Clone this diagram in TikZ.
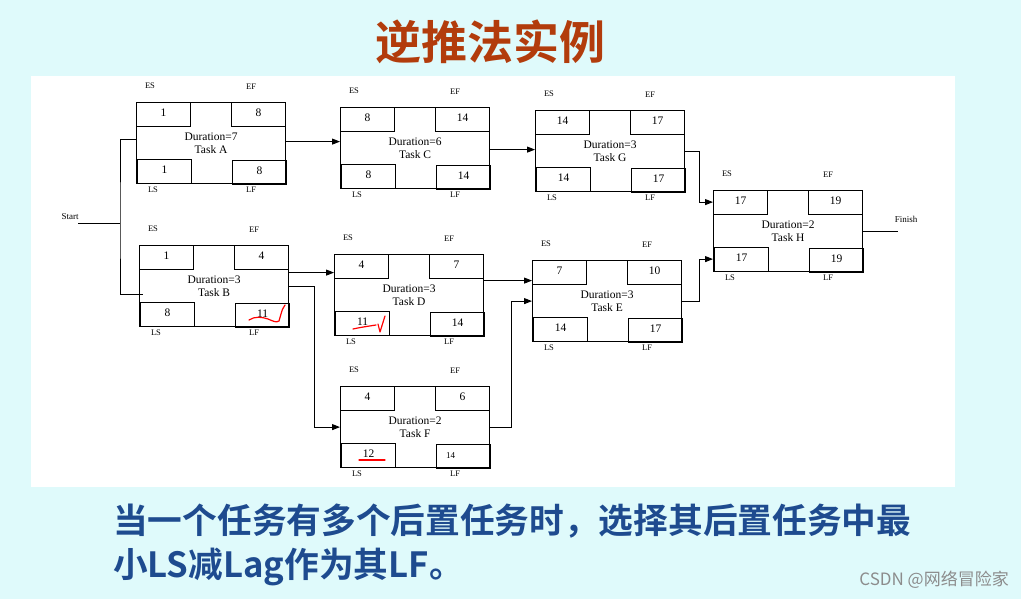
\documentclass[tikz,border=0pt]{standalone}
\usepackage{fontspec}
\setmainfont{Liberation Serif}
\newfontfamily\cjk{Noto Sans CJK SC}[BoldFont={Noto Sans CJK SC Bold}]
\usetikzlibrary{arrows.meta}
\definecolor{bgcyan}{HTML}{DFFAFB}
\definecolor{titlered}{HTML}{B23C0C}
\definecolor{textblue}{HTML}{1E4B8F}
\definecolor{wmgrey}{HTML}{8C8C8C}
\tikzset{
  box/.style={draw, line width=1.2pt, minimum width=149pt, minimum height=81pt, inner sep=0pt, align=center, font=\fontsize{11.5}{12.5}\selectfont},
  cell/.style={draw, line width=1.2pt, minimum width=54pt, minimum height=24pt, inner sep=0pt, text height=8pt, text depth=4.5pt, font=\fontsize{11.5}{12}\selectfont},
  lab/.style={font=\fontsize{8.5}{9}\selectfont, inner sep=0pt},
  conn/.style={line width=1pt},
  arr/.style={line width=1pt, -{Triangle[length=8pt,width=6pt]}},
  redmark/.style={red, line width=1.2pt, line cap=round, line join=round},
}
\newcommand\tasknode[8]{%
  \node[box, anchor=north west] (#1) at (#2,#3) {Duration=#8\\Task #1};
  \node[cell, anchor=north west] (#1es) at (#1.north west) {#4};
  \node[cell, anchor=north east] (#1ef) at (#1.north east) {#5};
  \node[cell, anchor=south west] (#1ls) at ([xshift=1pt]#1.south west) {#6};
  \node[cell, anchor=south east] (#1lf) at ([xshift=1pt,yshift=-1pt]#1.south east) {#7};
  \node[lab] (#1-ES) at ([xshift=14pt,yshift=16pt]#1.north west) {ES};
  \node[lab] (#1-EF) at ([xshift=-35pt,yshift=15pt]#1.north east) {EF};
  \node[lab] (#1-LS) at ([xshift=17pt,yshift=-6pt]#1.south west) {LS};
  \node[lab] (#1-LF) at ([xshift=-35pt,yshift=-6pt]#1.south east) {LF};
}
\begin{document}
\begin{tikzpicture}[x=1pt,y=-1pt]
\useasboundingbox (0,0) rectangle (1021,599);
\fill[bgcyan] (0,0) rectangle (1021,599);
\fill[white] (31,76) rectangle (955,487);

\node[font=\cjk\bfseries\fontsize{46}{50}\selectfont, text=titlered] (title) at (490,42) {逆推法实例};

\tasknode{A}{136}{102}{1}{8}{1}{8}{7}
\tasknode{B}{139}{245}{1}{4}{8}{11}{3}
\tasknode{C}{340}{107}{8}{14}{8}{14}{6}
\tasknode{G}{535}{110}{14}{17}{14}{17}{3}
\tasknode{H}{713}{190}{17}{19}{17}{19}{2}
\tasknode{D}{334}{254}{4}{7}{11}{14}{3}
\tasknode{E}{532}{260}{7}{10}{14}{17}{3}
\tasknode{F}{340}{386}{4}{6}{12}{{\fontsize{9}{10}\selectfont 14\hspace*{26pt}}}{2}

% start
\node[lab, font=\fontsize{9}{10}\selectfont] (start) at (70,217) {Start};
\coordinate (s0) at (78,224);
\coordinate (sj) at (120,224);
\draw[conn] (s0) -- (sj);
\draw[conn] ([yshift=3.5pt]A.west) -| (sj) |- ([yshift=-8.5pt,xshift=4pt]B.west);

% finish
\node[lab, font=\fontsize{9}{10}\selectfont] (finish) at (906,219) {Finish};
\draw[conn] (H.east) -- ++(35,0) coordinate (fin);

% arrows
\draw[arr] ([yshift=1.5pt]A.east) -- ([yshift=1.5pt]A.east -| C.west);
\draw[arr] ([yshift=-1.5pt]C.east) -- ([yshift=-1.5pt]C.east -| G.west);
\draw[arr] (G.east) -- ++(14,0) |- ([yshift=29pt]H.west);
\draw[arr] (E.east) -- ++(17,0) |- ([yshift=-28pt]H.west);
\draw[arr] ([yshift=13.5pt]B.east) -- ([yshift=13.5pt]B.east -| D.west);
\draw[arr] (B.east) -- ++(25,0) |- (F.west);
\draw[arr] ([yshift=14.5pt]D.east) -- ([yshift=14.5pt]D.east -| E.west);
\draw[arr] (F.east) -- ++(21,0) |- (E.west);

% red handwritten marks
\draw[redmark] (249,320) .. controls (255,316) and (262,317) .. (268,319) .. controls (273,321) and (276,323) .. (279,321) -- (281,314) .. controls (282,310) .. (285,305);
\draw[redmark] (353,329) .. controls (362,327) and (370,326) .. (376,325);
\draw[redmark] (378,324) -- (380,332) -- (385,316);
\draw[redmark] (359,460) -- (385,460);

% bottom text
\node[anchor=west, inner sep=0pt, font=\cjk\bfseries\fontsize{34.7}{40}\selectfont, text=textblue] (line1) at (113,521) {当一个任务有多个后置任务时，选择其后置任务中最};
\node[anchor=west, inner sep=0pt, font=\cjk\bfseries\fontsize{34.7}{40}\selectfont, text=textblue] (line2) at (113,567) {小LS减Lag作为其LF。};
\node[anchor=east, inner sep=0pt, font=\cjk\fontsize{17}{20}\selectfont, text=wmgrey] (wm) at (1009,580) {CSDN @网络冒险家};
\end{tikzpicture}
\end{document}
